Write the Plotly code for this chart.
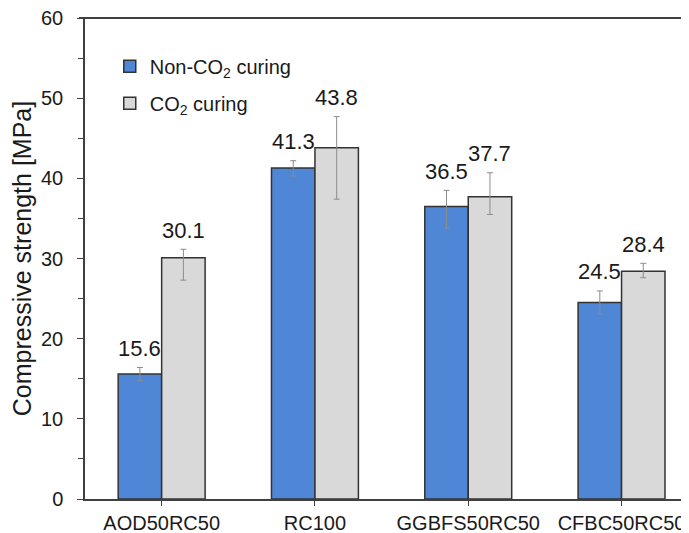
import plotly.graph_objects as go

categories = ["AOD50RC50", "RC100", "GGBFS50RC50", "CFBC50RC50"]
non_co2 = [15.6, 41.3, 36.5, 24.5]
co2 = [30.1, 43.8, 37.7, 28.4]
non_err_plus = [0.8, 0.9, 2.0, 1.45]
non_err_minus = [0.8, 1.0, 2.7, 1.4]
co2_err_plus = [1.05, 3.9, 3.0, 1.0]
co2_err_minus = [2.8, 6.4, 2.2, 0.8]

FONT = "Liberation Sans, Arial, Helvetica, sans-serif"
TXT = "#1a1a1a"
AX = "#404040"
# page body has an 8px margin; size the figure so it fits the 689x533 window
W, H = 681, 525
ML, MR, MT, MB = 77, 0, 10, 34

fig = go.Figure()
fig.add_trace(go.Bar(
    x=categories, y=non_co2, name="Non-CO<sub>2</sub> curing", legendgroup="a",
    marker=dict(color="#4f86d6", line=dict(color="#333333", width=1.5)),
    error_y=dict(type="data", symmetric=False, array=non_err_plus, arrayminus=non_err_minus,
                 color="#8c8c8c", thickness=1, width=3),
))
fig.add_trace(go.Bar(
    x=categories, y=co2, name="CO<sub>2</sub> curing", legendgroup="b",
    marker=dict(color="#d9d9d9", line=dict(color="#333333", width=1.5)),
    error_y=dict(type="data", symmetric=False, array=co2_err_plus, arrayminus=co2_err_minus,
                 color="#8c8c8c", thickness=1, width=3),
))

shift = 21.7
for cat, v, ep in zip(categories, non_co2, non_err_plus):
    fig.add_annotation(x=cat, y=v + ep, text=f"{v:.1f}", showarrow=False,
                       xshift=-shift, yshift=19, font=dict(size=22, color=TXT, family=FONT))
for cat, v, ep in zip(categories, co2, co2_err_plus):
    fig.add_annotation(x=cat, y=v + ep, text=f"{v:.1f}", showarrow=False,
                       xshift=shift, yshift=19, font=dict(size=22, color=TXT, family=FONT))

# top frame line
fig.add_shape(type="line", xref="paper", yref="paper", x0=-0.01, x1=1, y0=1, y1=1,
              line=dict(color=AX, width=2), layer="above")

fig.update_layout(
    width=W, height=H,
    margin=dict(l=ML, r=MR, t=MT, b=MB),
    paper_bgcolor="white", plot_bgcolor="white",
    font=dict(family=FONT, size=20, color=TXT),
    barmode="group", bargap=0.433, bargroupgap=0,
    showlegend=True,
    legend=dict(x=0.041, y=0.94, xanchor="left", yanchor="top",
                bgcolor="rgba(0,0,0,0)", font=dict(size=20, color=TXT, family=FONT),
                traceorder="grouped", tracegroupgap=8, itemwidth=30),
    xaxis=dict(range=[-0.5, 3.44], showline=True, linecolor=AX, linewidth=1.5,
               ticks="outside", ticklen=5, tickcolor=AX, ticklabeloverflow="allow",
               showgrid=False, tickfont=dict(size=20, color=TXT, family=FONT)),
    yaxis=dict(range=[0, 60], dtick=10, showline=True, linecolor=AX, linewidth=1.5,
               ticks="outside", ticklen=6, tickcolor=AX, showgrid=False, zeroline=False,
               minor=dict(dtick=5, ticks="outside", ticklen=5, tickcolor=AX),
               ticklabelstandoff=10, ticklabeloverflow="allow", automargin=False,
               title=dict(text="Compressive strength [MPa]", font=dict(size=25, color=TXT, family=FONT),
                          standoff=8),
               tickfont=dict(size=20, color=TXT, family=FONT)),
)

fig.write_html("out.html")
